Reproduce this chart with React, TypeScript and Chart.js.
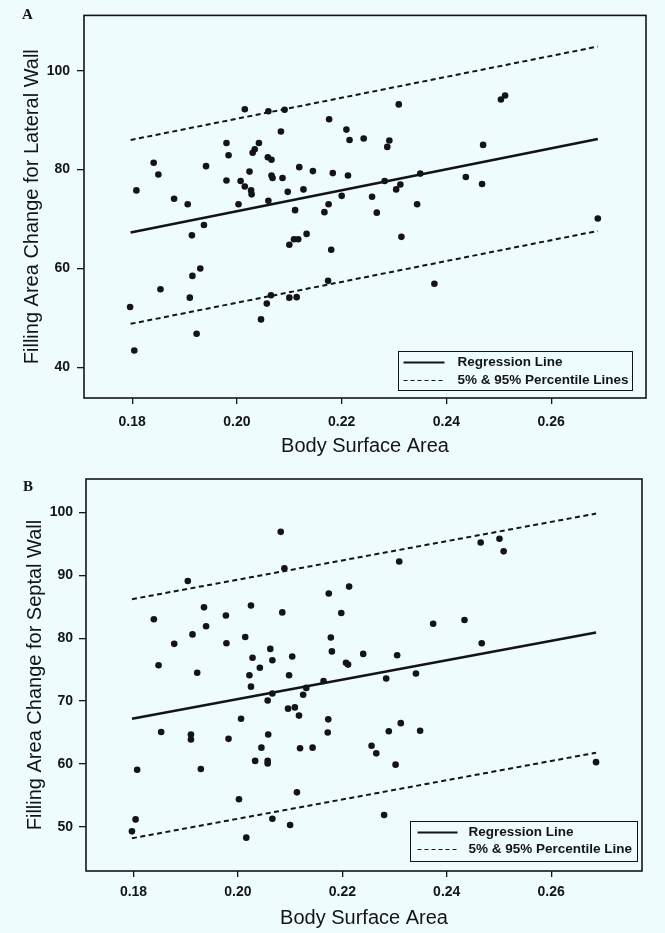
import React, { useEffect, useRef } from "react";
import { Chart, registerables } from "chart.js";

Chart.register(...registerables);

const SANS = "'Liberation Sans', Arial, Helvetica, sans-serif";
const SERIF = "'Liberation Serif', 'Times New Roman', serif";
const INK = "#141414";
const BG = "#eefcfd";

// ---------- Panel A: Lateral wall ----------
const bsaA = [
  0.1796, 0.1804, 0.1808, 0.1841, 0.1850, 0.1854, 0.1880, 0.1906, 0.1910, 0.1914,
  0.1915, 0.1923, 0.1930, 0.1937, 0.1941, 0.1980, 0.1980, 0.1984, 0.2003, 0.2007,
  0.2015, 0.2015, 0.2024, 0.2027, 0.2028, 0.2030, 0.2034, 0.2042, 0.2046, 0.2057,
  0.2060, 0.2059, 0.2060, 0.2065, 0.2066, 0.2066, 0.2068, 0.2084, 0.2087, 0.2091,
  0.2097, 0.2100, 0.2100, 0.2109, 0.2111, 0.2117, 0.2114, 0.2119, 0.2127, 0.2133,
  0.2145, 0.2167, 0.2174, 0.2176, 0.2175, 0.2180, 0.2183, 0.2200, 0.2209, 0.2212,
  0.2215, 0.2242, 0.2258, 0.2267, 0.2282, 0.2287, 0.2291, 0.2304, 0.2309, 0.2312,
  0.2314, 0.2344, 0.2350, 0.2377, 0.2437, 0.2468, 0.2470, 0.2504, 0.2512, 0.2689,
];
const lateralA = [
  52.2, 43.4, 75.8, 81.4, 79.0, 55.8, 74.1, 73.0, 54.1, 66.7,
  58.5, 46.8, 60.0, 68.8, 80.7, 85.4, 77.8, 82.9, 73.0, 77.7,
  92.2, 76.6, 79.6, 75.8, 75.0, 83.4, 84.1, 85.4, 49.7, 52.9,
  91.8, 82.5, 73.7, 54.6, 82.0, 78.8, 78.3, 87.7, 78.3, 92.1,
  75.5, 64.8, 54.1, 65.9, 71.8, 65.9, 54.2, 80.5, 76.0, 67.0,
  79.7, 71.4, 57.5, 90.2, 73.0, 63.8, 79.3, 74.7, 88.1, 78.8,
  86.0, 86.3, 74.5, 71.3, 77.7, 84.6, 85.9, 76.0, 93.2, 77.0,
  66.4, 73.0, 79.2, 56.9, 78.5, 77.1, 85.0, 94.2, 95.0, 70.1,
];
const lineXA = [0.1797, 0.2689];
const regressionA = [67.3, 86.2];
const upperA = [86.0, 104.9];
const lowerA = [48.8, 67.6];
const xTicksA = [0.18, 0.2, 0.22, 0.24, 0.26];
const yTicksA = [40, 60, 80, 100];

// ---------- Panel B: Septal wall ----------
const bsaB = [
  0.1797, 0.1804, 0.1807, 0.1839, 0.1848, 0.1853, 0.1878, 0.1904, 0.1910, 0.1910,
  0.1913, 0.1922, 0.1929, 0.1935, 0.1939, 0.1977, 0.1978, 0.1982, 0.2002, 0.2006,
  0.2014, 0.2016, 0.2022, 0.2025, 0.2025, 0.2028, 0.2033, 0.2042, 0.2045, 0.2057,
  0.2058, 0.2057, 0.2057, 0.2062, 0.2066, 0.2066, 0.2066, 0.2082, 0.2085, 0.2089,
  0.2098, 0.2096, 0.2100, 0.2104, 0.2109, 0.2113, 0.2117, 0.2119, 0.2125, 0.2131,
  0.2143, 0.2164, 0.2173, 0.2172, 0.2174, 0.2178, 0.2180, 0.2198, 0.2207, 0.2211,
  0.2213, 0.2240, 0.2256, 0.2265, 0.2280, 0.2284, 0.2289, 0.2302, 0.2305, 0.2309,
  0.2312, 0.2341, 0.2349, 0.2374, 0.2434, 0.2467, 0.2465, 0.2501, 0.2509, 0.2686,
];
const septalB = [
  49.3, 51.2, 59.1, 83.0, 75.7, 65.1, 79.1, 89.1, 64.7, 63.9,
  80.6, 74.5, 59.2, 84.9, 81.9, 83.6, 79.2, 64.0, 54.4, 67.2,
  80.2, 48.3, 74.1, 85.2, 72.3, 76.9, 60.5, 75.3, 62.6, 70.1,
  64.7, 60.5, 60.1, 78.3, 76.5, 51.3, 71.2, 96.9, 84.1, 91.1,
  74.1, 68.8, 50.3, 77.1, 69.0, 55.5, 67.7, 62.5, 71.0, 72.1,
  62.6, 73.2, 67.1, 65.0, 87.1, 80.1, 77.9, 84.0, 76.1, 75.8,
  88.2, 77.5, 62.9, 61.7, 51.9, 73.6, 65.2, 59.9, 77.3, 92.2,
  66.5, 74.4, 65.3, 82.3, 82.9, 79.2, 95.2, 95.8, 93.8, 60.3,
];
const lineXB = [0.1797, 0.2686];
const regressionB = [67.2, 80.9];
const upperB = [86.2, 99.8];
const lowerB = [48.2, 61.8];
const xTicksB = [0.18, 0.2, 0.22, 0.24, 0.26];
const yTicksB = [50, 60, 70, 80, 90, 100];

const legendA = ["Regression Line", "5% & 95% Percentile Lines"];
const legendB = ["Regression Line", "5% & 95% Percentile Line"];

const toPts = (xs: number[], ys: number[]) => xs.map((x, i) => ({ x, y: ys[i] }));

const frameLegendPlugin = {
  id: "frameLegend",
  afterDraw(chart: any, _args: any, opts: any) {
    const { ctx, chartArea: ca } = chart;
    ctx.save();
    ctx.strokeStyle = INK;
    ctx.lineWidth = 1.6;
    ctx.strokeRect(ca.left, ca.top, ca.right - ca.left, ca.bottom - ca.top);

    const L = opts.legend;
    if (L) {
      const bx = Math.round(ca.right - L.right - L.width) + 0.5;
      const by = Math.round(ca.bottom - L.bottom - L.height) + 0.5;
      ctx.fillStyle = BG;
      ctx.fillRect(bx, by, L.width, L.height);
      ctx.lineWidth = 1;
      ctx.strokeRect(bx, by, L.width, L.height);
      ctx.font = `bold 13.5px ${SANS}`;
      ctx.fillStyle = INK;
      ctx.textBaseline = "middle";
      ctx.textAlign = "left";
      // solid sample
      ctx.beginPath();
      ctx.lineWidth = 2.2;
      ctx.setLineDash([]);
      ctx.moveTo(bx + L.sx0, by + L.row1);
      ctx.lineTo(bx + L.sx1, by + L.row1);
      ctx.stroke();
      ctx.fillText(L.labels[0], bx + L.tx, by + L.row1);
      // dashed sample
      ctx.beginPath();
      ctx.lineWidth = 1;
      ctx.setLineDash([4, 3]);
      ctx.moveTo(bx + L.sx0, by + L.row2);
      ctx.lineTo(bx + L.sx1, by + L.row2);
      ctx.stroke();
      ctx.setLineDash([]);
      ctx.fillText(L.labels[1], bx + L.tx, by + L.row2);
    }
    ctx.restore();
  },
};

type PanelProps = {
  top: number;
  height: number;
  xs: number[];
  ys: number[];
  lineX: number[];
  reg: number[];
  upper: number[];
  lower: number[];
  xTicks: number[];
  yTicks: number[];
  xMin: number;
  xMax: number;
  yMin: number;
  yMax: number;
  yTitle: string;
  pad: { top: number; right: number };
  yAxisWidth: number;
  xAxisHeight: number;
  xLabelPad: number;
  yLabelPad: number;
  yTitlePad: number;
  xTitlePad: number;
  legend: any;
};

function Panel(p: PanelProps) {
  const ref = useRef<HTMLCanvasElement | null>(null);
  useEffect(() => {
    if (!ref.current) return;
    const tickFont = { family: SANS, size: 14, weight: "bold" };
    const titleFont = { family: SANS, size: 20 };
    const chart = new Chart(ref.current, {
      type: "scatter",
      data: {
        datasets: [
          {
            data: toPts(p.xs, p.ys),
            pointRadius: 3.3,
            pointBackgroundColor: INK,
            pointBorderWidth: 0,
            showLine: false,
          },
          {
            data: toPts(p.lineX, p.reg),
            showLine: true,
            borderColor: INK,
            borderWidth: 2.6,
            pointRadius: 0,
          },
          {
            data: toPts(p.lineX, p.upper),
            showLine: true,
            borderColor: INK,
            borderWidth: 2,
            borderDash: [5, 3.5],
            pointRadius: 0,
          },
          {
            data: toPts(p.lineX, p.lower),
            showLine: true,
            borderColor: INK,
            borderWidth: 2,
            borderDash: [5, 3.5],
            pointRadius: 0,
          },
        ],
      } as any,
      options: {
        responsive: false,
        animation: false,
        events: [],
        layout: { padding: { top: p.pad.top, right: p.pad.right, left: 0, bottom: 0 } },
        plugins: {
          legend: { display: false },
          tooltip: { enabled: false },
          frameLegend: { legend: p.legend },
        } as any,
        scales: {
          x: {
            type: "linear",
            min: p.xMin,
            max: p.xMax,
            afterBuildTicks: (s: any) => {
              s.ticks = p.xTicks.map((v) => ({ value: v }));
            },
            afterFit: (s: any) => {
              s.height = p.xAxisHeight;
            },
            ticks: {
              callback: (v: any) => Number(v).toFixed(2),
              font: tickFont,
              color: INK,
              padding: p.xLabelPad,
              maxRotation: 0,
              autoSkip: false,
            },
            grid: {
              drawOnChartArea: false,
              drawTicks: true,
              tickLength: 6,
              color: INK,
              lineWidth: 1.3,
            },
            border: { display: false },
            title: {
              display: true,
              text: "Body Surface Area",
              font: titleFont,
              color: INK,
              padding: { top: 0, bottom: p.xTitlePad },
            },
          },
          y: {
            type: "linear",
            min: p.yMin,
            max: p.yMax,
            afterBuildTicks: (s: any) => {
              s.ticks = p.yTicks.map((v) => ({ value: v }));
            },
            afterFit: (s: any) => {
              s.width = p.yAxisWidth;
            },
            ticks: {
              font: tickFont,
              color: INK,
              padding: p.yLabelPad,
              autoSkip: false,
            },
            grid: {
              drawOnChartArea: false,
              drawTicks: true,
              tickLength: 7,
              color: INK,
              lineWidth: 1.3,
            },
            border: { display: false },
            title: {
              display: true,
              text: p.yTitle,
              font: titleFont,
              color: INK,
              padding: { top: p.yTitlePad, bottom: 0 },
            },
          },
        },
      } as any,
      plugins: [frameLegendPlugin as any],
    });
    return () => chart.destroy();
  }, []);
  return (
    <canvas
      ref={ref}
      width={665}
      height={p.height}
      style={{ position: "absolute", left: 0, top: p.top, width: 665, height: p.height }}
    />
  );
}

export default function App() {
  return (
    <div
      style={{
        position: "absolute",
        left: 0,
        top: 0,
        width: 665,
        height: 933,
        background: BG,
        overflow: "hidden",
      }}
    >
      <Panel
        top={0}
        height={460}
        xs={bsaA}
        ys={lateralA}
        lineX={lineXA}
        reg={regressionA}
        upper={upperA}
        lower={lowerA}
        xTicks={xTicksA}
        yTicks={yTicksA}
        xMin={0.1708}
        xMax={0.2781}
        yMin={33.8}
        yMax={111.2}
        yTitle="Filling Area Change for Lateral Wall"
        pad={{ top: 6, right: 19 }}
        yAxisWidth={84}
        xAxisHeight={62}
        xLabelPad={10}
        yLabelPad={7}
        yTitlePad={20}
        xTitlePad={2}
        legend={{
          labels: legendA,
          right: 14,
          bottom: 8,
          width: 234,
          height: 39,
          row1: 11,
          row2: 29,
          sx0: 5,
          sx1: 46,
          tx: 59,
        }}
      />
      <Panel
        top={460}
        height={473}
        xs={bsaB}
        ys={septalB}
        lineX={lineXB}
        reg={regressionB}
        upper={upperB}
        lower={lowerB}
        xTicks={xTicksB}
        yTicks={yTicksB}
        xMin={0.1709}
        xMax={0.2774}
        yMin={43.0}
        yMax={105.3}
        yTitle="Filling Area Change for Septal Wall"
        pad={{ top: 19, right: 23 }}
        yAxisWidth={86}
        xAxisHeight={62}
        xLabelPad={7}
        yLabelPad={6}
        yTitlePad={23}
        xTitlePad={3}
        legend={{
          labels: legendB,
          right: 5,
          bottom: 10,
          width: 227,
          height: 40,
          row1: 11,
          row2: 28,
          sx0: 7,
          sx1: 47,
          tx: 58,
        }}
      />
      <div
        style={{
          position: "absolute",
          left: 22,
          top: 7,
          font: `bold 15px ${SERIF}`,
          lineHeight: "15px",
          color: INK,
        }}
      >
        A
      </div>
      <div
        style={{
          position: "absolute",
          left: 23,
          top: 479,
          font: `bold 15px ${SERIF}`,
          lineHeight: "15px",
          color: INK,
        }}
      >
        B
      </div>
    </div>
  );
}
